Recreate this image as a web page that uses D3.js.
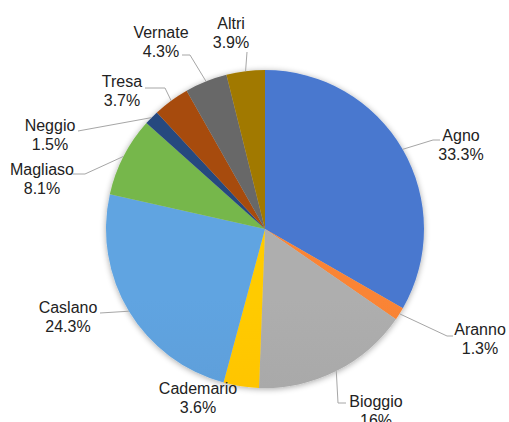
<!DOCTYPE html>
<html><head><meta charset="utf-8">
<script src="https://cdn.jsdelivr.net/npm/d3@7"></script>
<style>body{margin:0;background:#fff}</style>
</head><body><svg id="c" width="509" height="422"></svg>
<script>
const categories = ["Agno","Aranno","Bioggio","Cademario","Caslano","Magliaso","Neggio","Tresa","Vernate","Altri"];
const values = [33.3,1.3,16,3.6,24.3,8.1,1.5,3.7,4.3,3.9];
const valueLabels = ["33.3%","1.3%","16%","3.6%","24.3%","8.1%","1.5%","3.7%","4.3%","3.9%"];
const colors = ["#4472C4","#ED7D31","#A5A5A5","#FFC000","#5B9BD5","#70AD47","#264478","#9E480E","#636363","#997300"];

// layout of data labels (text centre x, first baseline y, leader bend points after the slice edge)
const labelLayout = [
  {x:461, y:141, leader:[[433,140],[440,140]]},
  {x:480, y:335, leader:[[447,336],[453,336]]},
  {x:376, y:407, leader:[[338,403],[346,403]]},
  {x:198, y:394, leader:null},
  {x:68,  y:313, leader:[[100,313]]},
  {x:42,  y:175, leader:[[85,174],[73,174]]},
  {x:50,  y:131, leader:[[78,131]]},
  {x:122, y:87,  leader:[[165,88],[145,88]]},
  {x:161, y:38,  leader:[[190,55],[182,55]]},
  {x:231, y:29,  leader:[[247,52]]}
];

const cx = 265, cy = 229, R = 159, lineH = 19;
const svg = d3.select("#c");
const defs = svg.append("defs");

const f = defs.append("filter").attr("id","sh").attr("x","-20%").attr("y","-20%").attr("width","140%").attr("height","140%");
f.append("feGaussianBlur").attr("in","SourceAlpha").attr("stdDeviation",3).attr("result","b");
f.append("feOffset").attr("in","b").attr("dx",0).attr("dy",1).attr("result","o");
f.append("feComponentTransfer").attr("in","o").attr("result","o2")
  .append("feFuncA").attr("type","linear").attr("slope",0.35);
const m = f.append("feMerge");
m.append("feMergeNode").attr("in","o2");
m.append("feMergeNode").attr("in","SourceGraphic");

colors.forEach((c,i)=>{
  const g = defs.append("linearGradient").attr("id","g"+i)
    .attr("gradientUnits","userSpaceOnUse")
    .attr("x1",0).attr("y1",cy-R).attr("x2",0).attr("y2",cy+R);
  g.append("stop").attr("offset","0%").attr("stop-color", d3.color(c).brighter(0.15));
  g.append("stop").attr("offset","50%").attr("stop-color", c);
  g.append("stop").attr("offset","100%").attr("stop-color", d3.color(c).darker(0.2));
});

const pie = d3.pie().sort(null).value(d=>d)(values);
const arc = d3.arc().innerRadius(0).outerRadius(R);

const gp = svg.append("g").attr("transform",`translate(${cx},${cy})`).attr("filter","url(#sh)");
gp.selectAll("path").data(pie).join("path")
  .attr("d", arc)
  .attr("fill", (d,i)=>`url(#g${i})`);

// leaders
const line = d3.line();
pie.forEach((d,i)=>{
  const L = labelLayout[i];
  if(!L.leader) return;
  const a = (d.startAngle + d.endAngle)/2;
  const p0 = [cx + R*Math.sin(a), cy - R*Math.cos(a)];
  svg.append("path").attr("d", line([p0, ...L.leader]))
    .attr("fill","none").attr("stroke","#a6a6a6").attr("stroke-width",1);
});

// labels
const tg = svg.append("g").attr("font-family","'Liberation Sans', Arial, Helvetica, sans-serif")
  .attr("font-size",16).attr("fill","#222").attr("text-anchor","middle");
categories.forEach((c,i)=>{
  const L = labelLayout[i];
  tg.append("text").attr("x",L.x).attr("y",L.y).text(c);
  tg.append("text").attr("x",L.x).attr("y",L.y+lineH).text(valueLabels[i]);
});
</script></body></html>
